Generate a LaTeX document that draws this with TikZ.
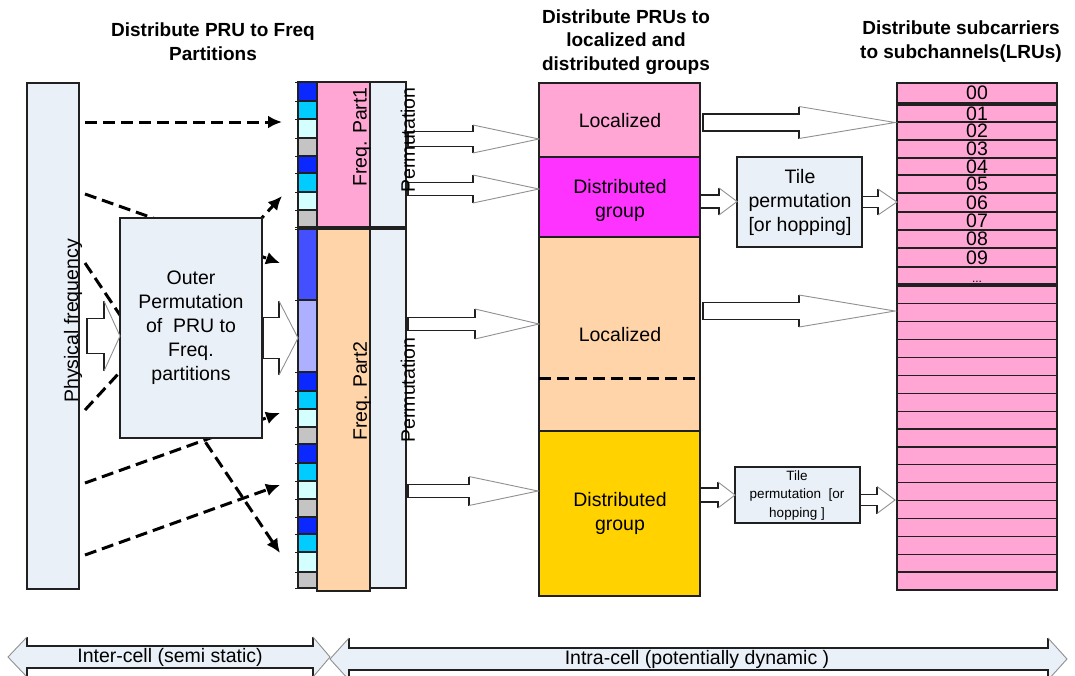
\documentclass[tikz,border=0pt]{standalone}
\usepackage{fontspec}
\setmainfont{Liberation Sans}
\usetikzlibrary{arrows.meta,calc}
\definecolor{panel}{HTML}{EAF0F8}
\definecolor{pinkc}{HTML}{FFA6D5}
\definecolor{magc}{HTML}{FF33FF}
\definecolor{peach}{HTML}{FFD4A8}
\definecolor{yel}{HTML}{FFD200}
\definecolor{bluec}{HTML}{0A28FF}
\definecolor{cyanc}{HTML}{00CCFF}
\definecolor{lcyan}{HTML}{D4FFFF}
\definecolor{greyc}{HTML}{C4C4C4}
\definecolor{mblue}{HTML}{4450FF}
\definecolor{lav}{HTML}{ACB0FF}
\definecolor{edge}{HTML}{202020}
\definecolor{headgrey}{HTML}{909090}

\tikzset{
 cell/.style={draw=edge, line width=1.2pt, inner sep=0pt, outer sep=0pt, anchor=north west},
 txt/.style={font=\fontsize{19.5}{24}\selectfont, align=center, inner sep=0pt},
 smalltxt/.style={font=\fontsize{13.5}{18.5}\selectfont, align=center, inner sep=0pt},
 dotstxt/.style={font=\fontsize{12}{12}\selectfont, inner sep=0pt},
 headtxt/.style={font=\bfseries\fontsize{19}{23.5}\selectfont, align=center, inner sep=0pt},
 dasharrow/.style={line width=3pt, dash pattern=on 12pt off 6pt, -{Latex[length=14pt,width=13pt]}},
 dashline/.style={line width=3pt, dash pattern=on 12pt off 6pt},
 shaftline/.style={draw=edge, line width=1.2pt},
 headline/.style={draw=headgrey, line width=0.9pt},
}

% rectangle node: name, x1, y1, x2, y2, fill
\newcommand\rbox[6]{\pgfmathsetmacro\bw{#4-#2}\pgfmathsetmacro\bh{#5-#3}%
 \node[cell, fill=#6, minimum width=\bw pt, minimum height=\bh pt] (#1) at (#2,#3) {};}

% hollow block arrow: x0, head x, tip x, y, shaft half, head half
\newcommand\barrow[6]{%
 \fill[white] (#1,#4-#5) -- (#2,#4-#5) -- (#2,#4-#6) -- (#3,#4) -- (#2,#4+#6) -- (#2,#4+#5) -- (#1,#4+#5) -- cycle;
 \draw[shaftline] (#2,#4-#6) -- (#2,#4-#5) -- (#1,#4-#5) -- (#1,#4+#5) -- (#2,#4+#5) -- (#2,#4+#6);
 \draw[headline] (#2,#4-#6) -- (#3,#4) -- (#2,#4+#6);}

% double block arrow: left tip, left head x, right head x, right tip, y, shaft half, head half
\newcommand\dbarrow[7]{%
 \fill[panel] (#1,#5) -- (#2,#5-#7) -- (#2,#5-#6) -- (#3,#5-#6) -- (#3,#5-#7) -- (#4,#5) -- (#3,#5+#7) -- (#3,#5+#6) -- (#2,#5+#6) -- (#2,#5+#7) -- cycle;
 \draw[shaftline] (#2,#5-#7) -- (#2,#5-#6) -- (#3,#5-#6) -- (#3,#5-#7);
 \draw[shaftline] (#2,#5+#7) -- (#2,#5+#6) -- (#3,#5+#6) -- (#3,#5+#7);
 \draw[headline] (#2,#5-#7) -- (#1,#5) -- (#2,#5+#7);
 \draw[headline] (#3,#5-#7) -- (#4,#5) -- (#3,#5+#7);}

\begin{document}
\begin{tikzpicture}[x=1pt,y=-1pt]
\useasboundingbox (0,0) rectangle (1075,675);

% headers
\node[headtxt] (h1) at (213,41.5) {Distribute PRU to Freq\\Partitions};
\node[headtxt] (h2) at (626,42) {Distribute PRUs to\\localized and\\distributed groups};
\node[headtxt] (h3) at (961,41.5) {Distribute subcarriers\\to subchannels(LRUs)};

% dashed mapping arrows (behind the outer permutation box)
\coordinate (s1) at (85,122);  \coordinate (e1) at (282,122);
\coordinate (s2) at (85,194);  \coordinate (e2) at (280,263);
\coordinate (s3) at (85,263);  \coordinate (e3) at (280,553);
\coordinate (s4) at (85,410);  \coordinate (e4) at (282,196);
\coordinate (s5) at (85,483);  \coordinate (e5) at (280,413);
\coordinate (s6) at (85,555);  \coordinate (e6) at (280,485);
\foreach \k in {1,...,6} {\draw[dasharrow] (s\k) -- (e\k);}

% physical frequency column
\rbox{phys}{27}{83}{79}{589}{panel}
% outer permutation box
\rbox{outer}{120}{218}{262}{438}{panel}

% frequency partitions
\rbox{fpart1}{317}{82}{370}{227}{pinkc}
\rbox{fpart2}{317}{229}{370}{591}{peach}
\rbox{perm1}{370}{82}{406}{227}{panel}
\rbox{perm2}{370}{229}{406}{588}{panel}

% PRU blocks
\foreach \ya/\yb/\cc [count=\i] in {82/101/bluec,101/119/cyanc,119/138/lcyan,138/156/greyc,156/173/bluec,173/192/cyanc,192/210/lcyan,210/227/greyc,229/300/mblue,300/372/lav,372/391/bluec,391/409/cyanc,409/427/lcyan,427/444/greyc,444/463/bluec,463/481/cyanc,481/499/lcyan,499/517/greyc,517/534/bluec,534/552/cyanc,552/572/lcyan,572/588/greyc}
 {\rbox{pru\i}{298}{\ya}{317}{\yb}{\cc}
  \draw[edge, line width=1pt] (pru\i.north west) -- ++(-3,0) (pru\i.south west) -- ++(-3,0);}

% groups column
\rbox{loc1}{539}{83}{700}{157}{pinkc}
\rbox{dist1}{539}{157}{700}{237}{magc}
\rbox{loc2}{539}{237}{700}{431}{peach}
\rbox{dist2}{539}{431}{700}{596}{yel}
\draw[dashline] (loc2.west |- 0,378) coordinate (dl1) -- (loc2.east |- 0,378) coordinate (dl2);

% tile permutation boxes
\rbox{tile1}{737}{157}{862}{247}{panel}
\rbox{tile2}{735}{467}{860}{523}{panel}

% subchannel column
\rbox{r00}{897}{83}{1057}{103}{pinkc}
\foreach \ya/\yb [count=\i] in {105/122,122/140,140/158,158/175,175/193,193/212,212/230,230/248,248/267,267/284}
 {\rbox{ru\i}{897}{\ya}{1057}{\yb}{pinkc}}
\foreach \i in {0,...,16}
 {\pgfmathsetmacro\ya{286+\i*17.88}\pgfmathsetmacro\yb{286+(\i+1)*17.88}
  \rbox{rl\i}{897}{\ya}{1057}{\yb}{pinkc}}
\node[txt] (n00) at (r00) {00};
\foreach \lab [count=\i] in {01,02,03,04,05,06,07,08,09}
 {\node[txt] (n\i) at (ru\i) {\lab};}
\node[dotstxt, anchor=base] (ndots) at ($(ru10.south)+(0,-2)$) {...};

% hollow block arrows
\barrow{87}{104}{120}{336}{17.5}{35}
\barrow{263}{279}{298}{338}{20.5}{37}
\barrow{408}{473}{539}{139}{7.5}{14}
\barrow{408}{473}{539}{189}{6.5}{14}
\barrow{408}{475}{539}{324}{6.5}{15}
\barrow{408}{469}{538}{491}{6.5}{14.5}
\barrow{703}{799}{895}{122.5}{8.5}{16}
\barrow{700}{719}{737}{201.5}{6.5}{13.5}
\barrow{862}{878}{897}{202}{5.5}{13}
\barrow{703}{799}{895}{311}{8.5}{16}
\barrow{700}{718}{735}{495}{7}{13}
\barrow{860}{877}{895}{500}{5.5}{13.5}

% labels
\node[txt, rotate=90] (physlbl) at (73,321) {Physical frequency};
\node[txt] (outerlbl) at (191,328) {Outer\\Permutation\\of~ PRU to\\Freq.\\partitions};
\node[txt, rotate=90] (fp1lbl) at (362,137) {Freq. Part1};
\node[txt, rotate=90] (fp2lbl) at (362,391) {Freq. Part2};
\node[txt, rotate=90] (pm1lbl) at (408,140) {Permutation};
\node[txt, rotate=90] (pm2lbl) at (408,390) {Permutation};
\node[txt] (loc1lbl) at (620,121) {Localized};
\node[txt] (dist1lbl) at (620,200) {Distributed\\group};
\node[txt] (loc2lbl) at (620,335) {Localized};
\node[txt] (dist2lbl) at (620,513) {Distributed\\group};
\node[txt] (tile1lbl) at (800,202) {Tile\\permutation\\{[}or hopping{]}};
\node[smalltxt] (tile2lbl) at (797,495) {Tile\\permutation~ {[}or\\hopping {]}};

% bottom range arrows
\dbarrow{8}{27}{313}{330}{657}{11}{20}
\dbarrow{330}{349}{1048}{1067}{659}{11}{21}
\node[txt] (interlbl) at (170,657) {Inter-cell (semi static)};
\node[txt] (intralbl) at (697,659) {Intra-cell (potentially dynamic )};
\end{tikzpicture}
\end{document}
